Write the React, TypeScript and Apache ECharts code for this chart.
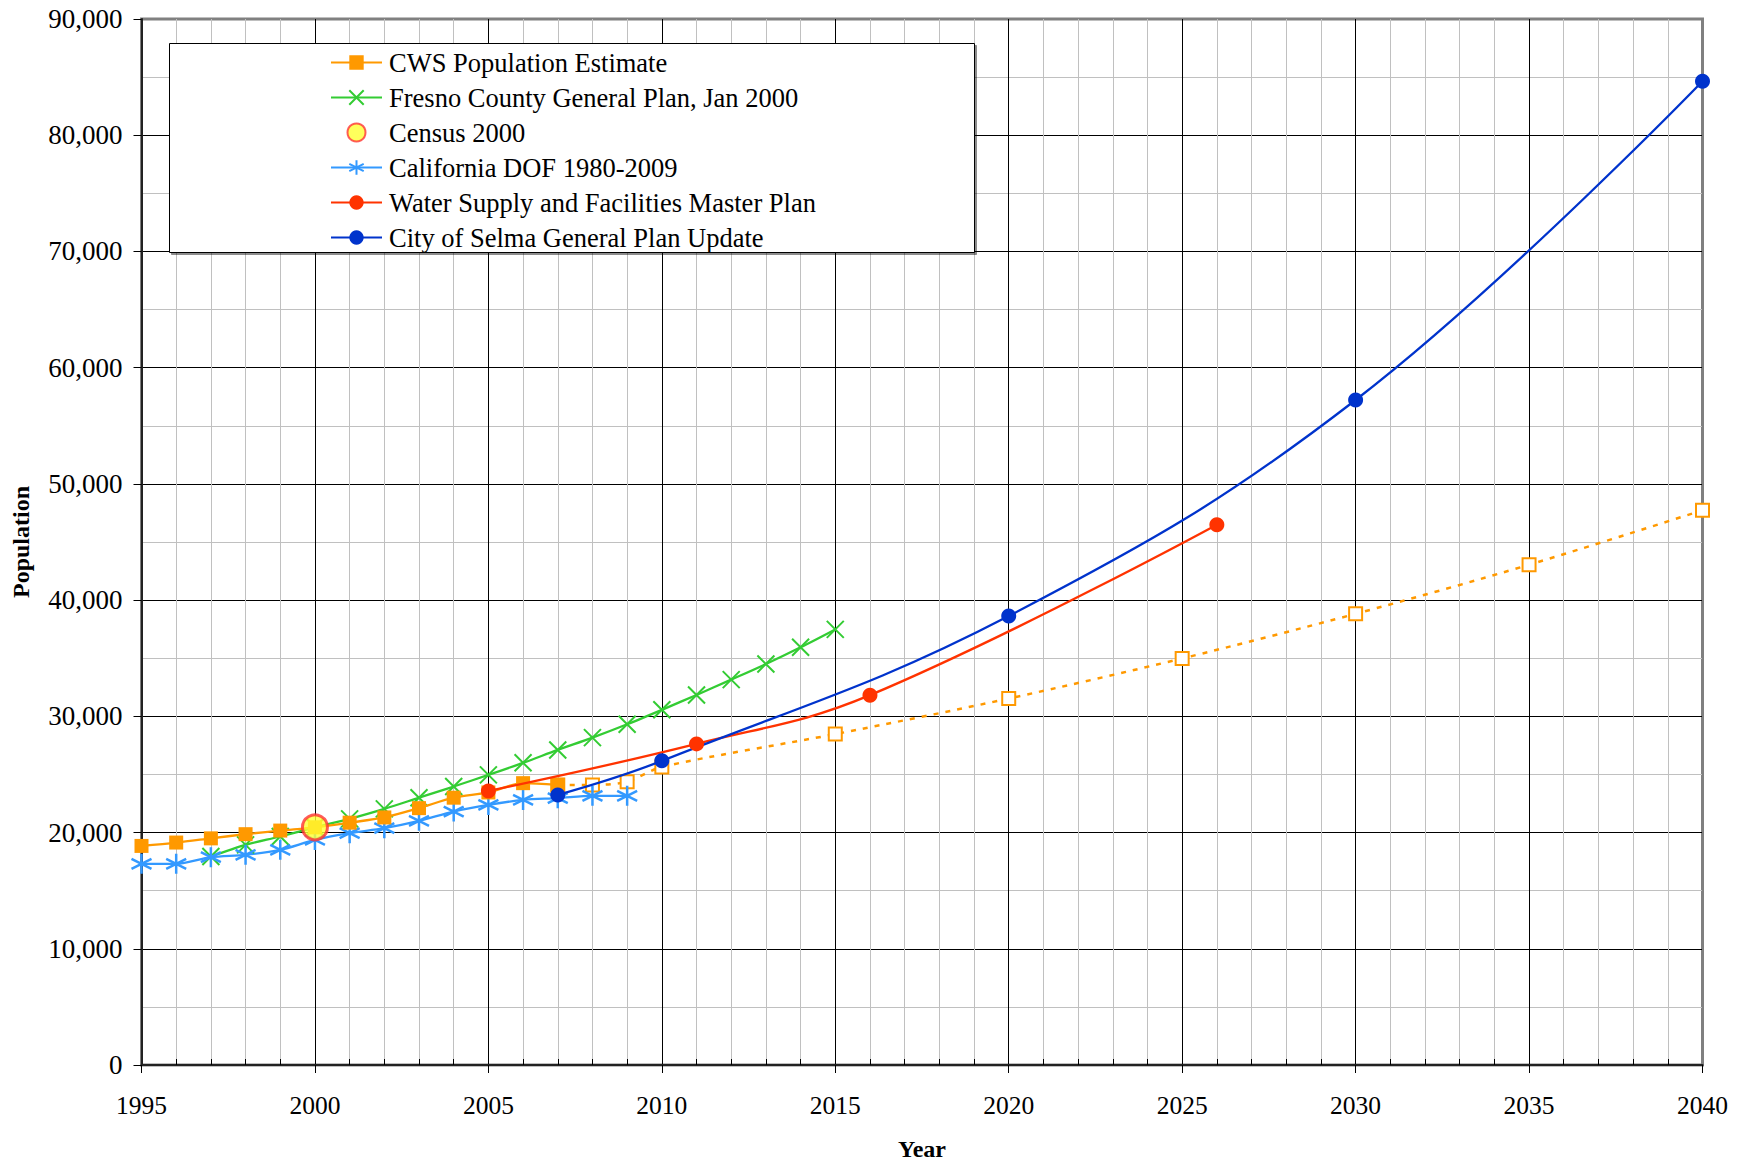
import React, { useEffect, useRef } from "react";
import * as echarts from "echarts";

const cwsYears = [1995, 1996, 1997, 1998, 1999, 2000, 2001, 2002, 2003, 2004, 2005, 2006, 2007];
const cwsValues = [18850, 19140, 19500, 19860, 20170, 20450, 20850, 21300, 22100, 23000, 23450, 24250, 24100];

const projYears = [2007, 2008, 2009, 2010, 2015, 2020, 2025, 2030, 2035, 2040];
const projValues = [24100, 24100, 24380, 25650, 28470, 31530, 34980, 38820, 43040, 47730];

const fresnoYears = [1997, 1998, 1999, 2000, 2001, 2002, 2003, 2004, 2005, 2006, 2007, 2008, 2009, 2010, 2011, 2012, 2013, 2014, 2015];
const fresnoValues = [17940, 18940, 19660, 20450, 21180, 22040, 23000, 23960, 24960, 26000, 27110, 28170, 29320, 30560, 31840, 33160, 34500, 35940, 37480];

const censusYears = [2000];
const censusValues = [20450];

const dofYears = [1995, 1996, 1997, 1998, 1999, 2000, 2001, 2002, 2003, 2004, 2005, 2006, 2007, 2008, 2009];
const dofValues = [17310, 17310, 17880, 18080, 18510, 19370, 19950, 20380, 21010, 21810, 22380, 22810, 22960, 23160, 23160];

const waterYears = [2005, 2011, 2016, 2026];
const waterValues = [23580, 27630, 31820, 46490];

const selmaYears = [2007, 2010, 2020, 2030, 2040];
const selmaValues = [23240, 26170, 38630, 57220, 84640];

const seriesNames = [
  "CWS Population Estimate",
  "Fresno County General Plan, Jan 2000",
  "Census 2000",
  "California DOF 1980-2009",
  "Water Supply and Facilities Master Plan",
  "City of Selma General Plan Update",
];

const pairs = (xs: number[], ys: number[]) => xs.map((x, i) => [x, ys[i]]);

const FONT = "'Liberation Serif', 'Times New Roman', serif";
const ASTERISK = "path://M0,-10L0,10M-8.66,-5L8.66,5M-8.66,5L8.66,-5";
const XMARK = "path://M-10,-10L10,10M-10,10L10,-10";

const X_SPLIT_COLORS = ["#000", "#000", "#000", "#000", "#000", "#000", "#000", "#000", "#000", "#808080"];
const Y_SPLIT_COLORS = ["#000", "#000", "#000", "#000", "#000", "#000", "#000", "#000", "#000", "#808080"];

export default function App() {
  const ref = useRef<HTMLDivElement>(null);
  useEffect(() => {
    if (!ref.current) return;
    const chart = echarts.init(ref.current, undefined, { renderer: "svg" });
    const orange = "#FF9900";
    const green = "#33CC33";
    const lblue = "#3399FF";
    const red = "#FF3300";
    const dblue = "#0033CC";
    chart.setOption({
      animation: false,
      backgroundColor: "#ffffff",
      textStyle: { fontFamily: FONT },
      grid: {
        left: 141.5,
        right: 44.5,
        top: 19,
        bottom: 98,
        containLabel: false,
        outerBoundsMode: "none",
        show: true,
        borderColor: "#808080",
        borderWidth: 3,
        backgroundColor: "transparent",
      },
      graphic: [
        {
          type: "rect",
          z: 9,
          shape: { x: 169.5, y: 43.5, width: 805, height: 209 },
          style: { fill: "#ffffff", stroke: "#000000", lineWidth: 1, shadowColor: "rgba(0,0,0,0.45)", shadowOffsetX: 2, shadowOffsetY: 2, shadowBlur: 0 },
        },
      ],
      legend: {
        z: 10,
        orient: "vertical",
        left: 330,
        top: 49,
        padding: 0,
        itemWidth: 51,
        itemHeight: 18,
        itemGap: 8,
        data: seriesNames,
        textStyle: { fontFamily: FONT, fontSize: 26.5, color: "#000", lineHeight: 26, padding: [0, 0, 0, 2] },
      },
      xAxis: {
        type: "value",
        min: 1995,
        max: 2040,
        interval: 5,
        name: "Year",
        nameLocation: "middle",
        nameGap: 72,
        nameTextStyle: { fontFamily: FONT, fontSize: 24, fontWeight: "bold", color: "#000" },
        axisLine: { show: true, onZero: false, lineStyle: { color: "#222", width: 2 } },
        axisTick: { show: true, length: 8, lineStyle: { color: "#000" } },
        minorTick: { show: true, splitNumber: 5, length: -6, lineStyle: { color: "#000" } },
        axisLabel: { fontFamily: FONT, fontSize: 25.5, color: "#000", margin: 27, formatter: (v: number) => String(v) },
        splitLine: { show: true, lineStyle: { color: X_SPLIT_COLORS, width: 1 } },
        minorSplitLine: { show: true, lineStyle: { color: "#C0C0C0", width: 1 } },
      },
      yAxis: {
        type: "value",
        min: 0,
        max: 90000,
        interval: 10000,
        name: "Population",
        nameLocation: "middle",
        nameRotate: 90,
        nameGap: 109,
        nameTextStyle: { fontFamily: FONT, fontSize: 24, fontWeight: "bold", color: "#000" },
        axisLine: { show: true, lineStyle: { color: "#222", width: 2 } },
        axisTick: { show: true, length: 8, lineStyle: { color: "#000" } },
        minorTick: { show: false, splitNumber: 2 },
        axisLabel: { fontFamily: FONT, fontSize: 27, color: "#000", margin: 19, formatter: (v: number) => v.toLocaleString("en-US") },
        splitLine: { show: true, lineStyle: { color: Y_SPLIT_COLORS, width: 1 } },
        minorSplitLine: { show: true, lineStyle: { color: "#C0C0C0", width: 1 } },
      },
      series: [
        {
          name: "CWS Projection",
          type: "line",
          data: pairs(projYears, projValues),
          smooth: 0.3,
          symbol: "rect",
          symbolSize: 13,
          lineStyle: { color: orange, width: 2.5, type: [5, 7] },
          itemStyle: { color: "#ffffff", borderColor: orange, borderWidth: 2 },
          z: 2,
        },
        {
          name: seriesNames[1],
          type: "line",
          data: pairs(fresnoYears, fresnoValues),
          smooth: 0.3,
          symbol: XMARK,
          symbolSize: 17,
          lineStyle: { color: green, width: 2.3 },
          itemStyle: { color: green, borderColor: green, borderWidth: 2 },
          z: 3,
        },
        {
          name: seriesNames[3],
          type: "line",
          data: pairs(dofYears, dofValues),
          smooth: 0.3,
          symbol: ASTERISK,
          symbolSize: 20,
          lineStyle: { color: lblue, width: 2.3 },
          itemStyle: { color: lblue, borderColor: lblue, borderWidth: 2.5 },
          z: 3,
        },
        {
          name: seriesNames[0],
          type: "line",
          data: pairs(cwsYears, cwsValues),
          smooth: 0.3,
          symbol: "rect",
          symbolSize: 14,
          lineStyle: { color: orange, width: 2.3 },
          itemStyle: { color: orange },
          z: 4,
        },
        {
          name: seriesNames[4],
          type: "line",
          data: pairs(waterYears, waterValues),
          smooth: 0.4,
          symbol: "circle",
          symbolSize: 15,
          lineStyle: { color: red, width: 2.3 },
          itemStyle: { color: red },
          z: 5,
        },
        {
          name: seriesNames[5],
          type: "line",
          data: pairs(selmaYears, selmaValues),
          smooth: 0.4,
          symbol: "circle",
          symbolSize: 15,
          lineStyle: { color: dblue, width: 2.3 },
          itemStyle: { color: dblue },
          z: 5,
        },
        {
          name: seriesNames[2],
          type: "scatter",
          data: pairs(censusYears, censusValues),
          symbol: "circle",
          symbolSize: 25,
          itemStyle: { color: "#FFFF33", borderColor: "#FF3333", borderWidth: 3 },
          z: 6,
        },
      ],
    });
    return () => chart.dispose();
  }, []);
  return (
    <div
      ref={ref}
      style={{ position: "fixed", left: 0, top: 0, width: 1747, height: 1163, background: "#fff" }}
    />
  );
}
